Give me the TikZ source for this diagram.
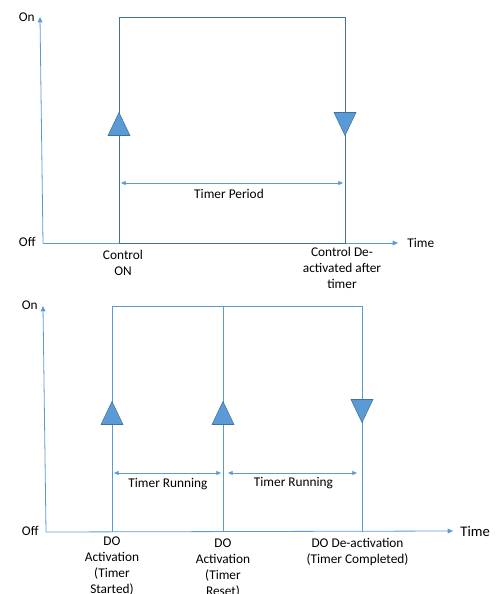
\documentclass[tikz,border=0pt]{standalone}
\usepackage{fontspec}
\setmainfont{Carlito}
\usetikzlibrary{arrows.meta}
\definecolor{axisblue}{HTML}{5B9BD5}
\definecolor{darkblue}{HTML}{41719C}
\begin{document}
\begin{tikzpicture}[x=0.75pt,y=-0.75pt,semithick]
\tikzstyle{axis}=[draw=axisblue,-{Triangle[length=4pt,width=3.5pt]}]
\tikzstyle{span}=[draw=axisblue,{Triangle[length=3.5pt,width=3pt]}-{Triangle[length=3.5pt,width=3pt]}]
\tikzstyle{pulse}=[draw=darkblue]
\tikzstyle{level}=[anchor=east,inner sep=0pt,font=\fontsize{10}{12}\selectfont]
\tikzstyle{label}=[align=center,inner sep=0pt,font=\fontsize{10}{12}\selectfont]
\tikzstyle{tri}=[fill=axisblue,draw=darkblue,thin]
\tikzset{uptri/.pic={\filldraw[tri] (-11,11.5) -- (0,-11.5) -- (11,11.5) -- cycle;},
  downtri/.pic={\filldraw[tri] (-11,-11.5) -- (0,11.5) -- (11,-11.5) -- cycle;}}
\useasboundingbox (0,0) rectangle (500,594);
% upper chart
\coordinate (o1) at (43,243);
\coordinate (y1) at (40,17);
\coordinate (x1) at (398,243);
\coordinate (r1b) at (119,243);
\coordinate (f1t) at (345,17);
\coordinate (p1a) at (121,183);
\coordinate (p1b) at (343,183);
\node[level] (on1) at (35,17) {On};
\node[level] (off1) at (36,242) {Off};
\node[level,anchor=west] (time1) at (407,243) {Time};
\draw[axis] (o1) -- (y1);
\draw[axis] (o1) -- (x1);
\draw[pulse] (r1b) rectangle (f1t);
\pic at (119,124) {uptri};
\pic at (345,124) {downtri};
\draw[span] (p1a) -- (p1b);
\node[label] (period) at (229,194) {Timer Period};
\node[label] (ctrlon) at (123,262.5) {Control\\ON};
\node[label] (ctrloff) at (342,268) {Control De-\\activated after\\timer};
% lower chart
\coordinate (o2) at (46,532);
\coordinate (y2) at (43,306);
\coordinate (x2) at (453,531);
\coordinate (r2b) at (112,532);
\coordinate (r2t) at (112,306);
\coordinate (s2b) at (223,532);
\coordinate (s2t) at (223,306);
\coordinate (f2b) at (362,532);
\coordinate (f2t) at (362,306);
\coordinate (q1a) at (114,473);
\coordinate (q1b) at (221,473);
\coordinate (q2a) at (228,473);
\coordinate (q2b) at (357,473);
\node[level] (on2) at (38,305) {On};
\node[level] (off2) at (39,531) {Off};
\node[level,anchor=west,font=\fontsize{11}{13}\selectfont] (time2) at (460,531) {Time};
\draw[axis] (o2) -- (y2);
\draw[axis] (o2) -- (x2);
\draw[axisblue] (r2b) -- (r2t) -- (f2t) -- (f2b);
\draw[axisblue] (s2b) -- (s2t);
\pic at (112,413) {uptri};
\pic at (223,413) {uptri};
\pic at (362,411) {downtri};
\draw[span] (q1a) -- (q1b);
\draw[span] (q2a) -- (q2b);
\node[label] (run1) at (168,484) {Timer Running};
\node[label] (run2) at (293.5,483) {Timer Running};
\node[label] (doon1) at (112,566) {DO\\Activation\\(Timer\\Started)};
\node[label] (doon2) at (223,568) {DO\\Activation\\(Timer\\Reset)};
\node[label] (dooff) at (357.5,552) {DO De-activation\\(Timer Completed)};
\end{tikzpicture}
\end{document}
